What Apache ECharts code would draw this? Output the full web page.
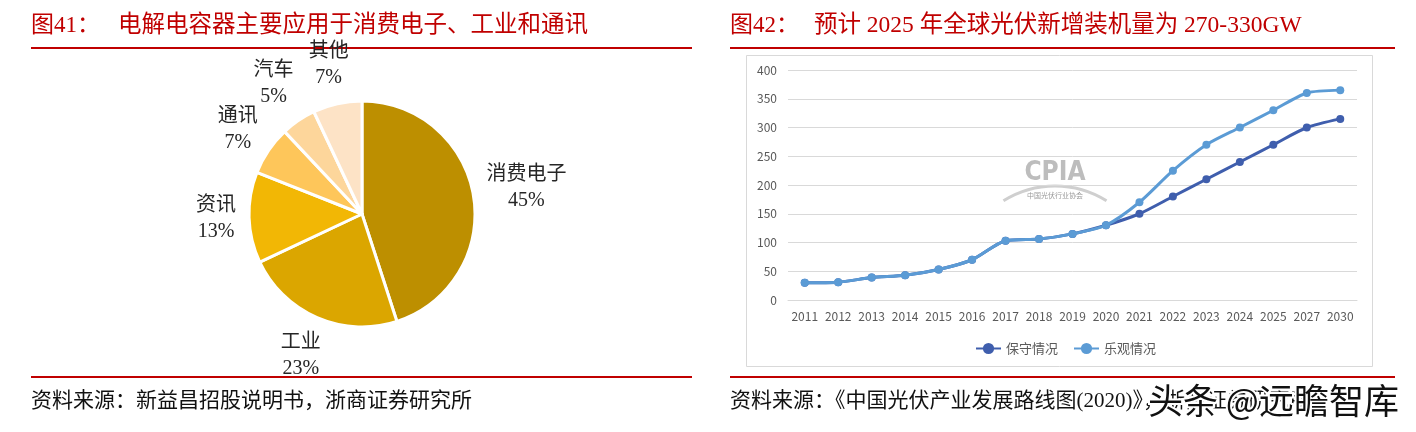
<!DOCTYPE html>
<html>
<head>
<meta charset="utf-8">
<script src="https://cdn.jsdelivr.net/npm/echarts@6/dist/echarts.min.js"></script>
<style>
html,body{margin:0;padding:0;background:#ffffff;}
#c{width:1416px;height:432px;}
</style>
</head>
<body>
<div id="c"></div>
<script>
// ---------- data ----------
const pieNames  = ['消费电子', '工业', '资讯', '通讯', '汽车', '其他'];
const pieValues = [45, 23, 13, 7, 5, 7];
const pieColors = ['#BD8F00', '#DBA600', '#F2B705', '#FEC65A', '#FDD69B', '#FDE3C6'];

const years        = ['2011','2012','2013','2014','2015','2016','2017','2018','2019','2020','2021','2022','2023','2024','2025','2027','2030'];
const conservative = [30, 31, 39, 43, 53, 70, 103, 106, 115, 130, 150, 180, 210, 240, 270, 300, 315];
const optimistic   = [30, 31, 39, 43, 53, 70, 103, 106, 115, 130, 170, 225, 270, 300, 330, 360, 365];
const seriesNames  = ['保守情况', '乐观情况'];

const leftTitleNo   = '图41：';
const leftTitle     = '电解电容器主要应用于消费电子、工业和通讯';
const rightTitleNo  = '图42：';
const rightTitle    = '预计 2025 年全球光伏新增装机量为 270-330GW';
const leftSource    = '资料来源：新益昌招股说明书，浙商证券研究所';
const rightSource   = '资料来源：《中国光伏产业发展路线图(2020)》，浙商证券研究所';
const watermark     = '头条 @远瞻智库';

// ---------- layout constants ----------
const PIE_CX = 362, PIE_CY = 214, PIE_R = 113, LABEL_GAP = 13;
const SERIF = "'Liberation Serif', 'Noto Sans CJK SC', serif";
const SANS  = "'Noto Sans CJK SC', 'Noto Sans', sans-serif";
const RED = '#C00000';

const total = pieValues.reduce((a, b) => a + b, 0);
const mids = [];
(function () {
  let acc = 0;
  pieValues.forEach(v => { mids.push((acc + v / 2) / total * 2 * Math.PI); acc += v; });
})();

const chart = echarts.init(document.getElementById('c'), null, {renderer: 'canvas', width: 1416, height: 432});

const option = {
  animation: false,
  backgroundColor: '#ffffff',
  grid: {left: 788, right: 59, top: 70, bottom: 132},
  legend: {
    data: seriesNames,
    left: 970, top: 337,
    itemWidth: 25, itemHeight: 14, itemGap: 15,
    textStyle: {fontFamily: SANS, fontSize: 13, color: '#595959'}
  },
  xAxis: {
    type: 'category',
    data: years,
    boundaryGap: true,
    axisLine: {show: true, lineStyle: {color: '#D9D9D9'}},
    axisTick: {show: false},
    axisLabel: {color: '#595959', fontFamily: SANS, fontSize: 12, margin: 10, interval: 0}
  },
  yAxis: {
    type: 'value',
    min: 0, max: 400, interval: 50,
    axisLine: {show: false},
    axisTick: {show: false},
    splitLine: {lineStyle: {color: '#D9D9D9', width: 1}},
    axisLabel: {color: '#595959', fontFamily: SANS, fontSize: 12, margin: 11}
  },
  series: [
    {
      type: 'pie',
      center: [PIE_CX, PIE_CY],
      radius: PIE_R,
      startAngle: 90,
      clockwise: true,
      avoidLabelOverlap: false,
      data: pieNames.map((n, i) => ({name: n, value: pieValues[i], itemStyle: {color: pieColors[i]}})),
      itemStyle: {borderColor: '#ffffff', borderWidth: 3},
      label: {
        show: true,
        position: 'outside',
        formatter: '{b}\n{c}%',
        fontFamily: SERIF,
        fontSize: 20,
        lineHeight: 26,
        color: '#262626'
      },
      labelLine: {show: false},
      emphasis: {disabled: true},
      labelLayout: function (p) {
        const t = mids[p.dataIndex];
        const dx = Math.sin(t), dy = -Math.cos(t);
        const hw = p.labelRect.width / 2, hh = p.labelRect.height / 2;
        const ex = Math.abs(dx) > 1e-6 ? hw / Math.abs(dx) : Infinity;
        const ey = Math.abs(dy) > 1e-6 ? hh / Math.abs(dy) : Infinity;
        const d = PIE_R + LABEL_GAP + Math.min(ex, ey);
        return {x: PIE_CX + d * dx, y: PIE_CY + d * dy, align: 'center', verticalAlign: 'middle'};
      }
    },
    {
      name: seriesNames[0],
      type: 'line',
      data: conservative,
      smooth: 0.25,
      symbol: 'circle',
      symbolSize: 8,
      z: 2,
      itemStyle: {color: '#3F5EAD'},
      lineStyle: {color: '#3F5EAD', width: 3}
    },
    {
      name: seriesNames[1],
      type: 'line',
      data: optimistic,
      smooth: 0.25,
      symbol: 'circle',
      symbolSize: 8,
      z: 3,
      itemStyle: {color: '#5B9BD5'},
      lineStyle: {color: '#5B9BD5', width: 3}
    }
  ],
  graphic: [
    // titles
    {type: 'text', left: 31, top: 14, style: {text: leftTitleNo, font: "23px " + SERIF, fill: RED}},
    {type: 'text', left: 118, top: 14, style: {text: leftTitle, font: "23.5px " + SERIF, fill: RED}},
    {type: 'text', left: 730, top: 14, style: {text: rightTitleNo, font: "23px " + SERIF, fill: RED}},
    {type: 'text', left: 814, top: 14, style: {text: rightTitle, font: "23.5px " + SERIF, fill: RED}},
    // red rules
    {type: 'rect', shape: {x: 31, y: 47, width: 661, height: 2}, style: {fill: RED}},
    {type: 'rect', shape: {x: 730, y: 47, width: 665, height: 2}, style: {fill: RED}},
    {type: 'rect', shape: {x: 31, y: 376, width: 661, height: 2}, style: {fill: RED}},
    {type: 'rect', shape: {x: 730, y: 376, width: 665, height: 2}, style: {fill: RED}},
    // chart frame
    {type: 'rect', shape: {x: 746.5, y: 55.5, width: 626, height: 311}, style: {fill: 'none', stroke: '#D9D9D9', lineWidth: 1}, z: -1},
    // CPIA watermark
    {type: 'text', x: 1055, y: 173, style: {text: 'CPIA', font: "bold 26px 'Liberation Sans Narrow', 'DejaVu Sans Condensed', sans-serif", fill: '#BDBDBD', align: 'center', verticalAlign: 'middle'}, z: 0},
    {type: 'arc', shape: {cx: 1055, cy: 283, r: 97, startAngle: -Math.PI / 2 - 0.56, endAngle: -Math.PI / 2 + 0.56}, style: {stroke: '#CFCFCF', lineWidth: 3, fill: 'none'}, z: 0},
    {type: 'text', x: 1055, y: 195, style: {text: '中国光伏行业协会', font: "7px " + SANS, fill: '#9A9A9A', align: 'center', verticalAlign: 'middle'}, z: 0},
    // sources
    {type: 'text', left: 31, top: 391, style: {text: leftSource, font: "21px " + SERIF, fill: '#111111'}},
    {type: 'text', left: 730, top: 391, style: {text: rightSource, font: "21px " + SERIF, fill: '#111111'}},
    {type: 'text', left: 1146, top: 381, style: {text: watermark, font: "35px " + SANS, fill: '#111111', stroke: '#ffffff', lineWidth: 4}, z: 10}
  ]
};

chart.setOption(option);
</script>
</body>
</html>
